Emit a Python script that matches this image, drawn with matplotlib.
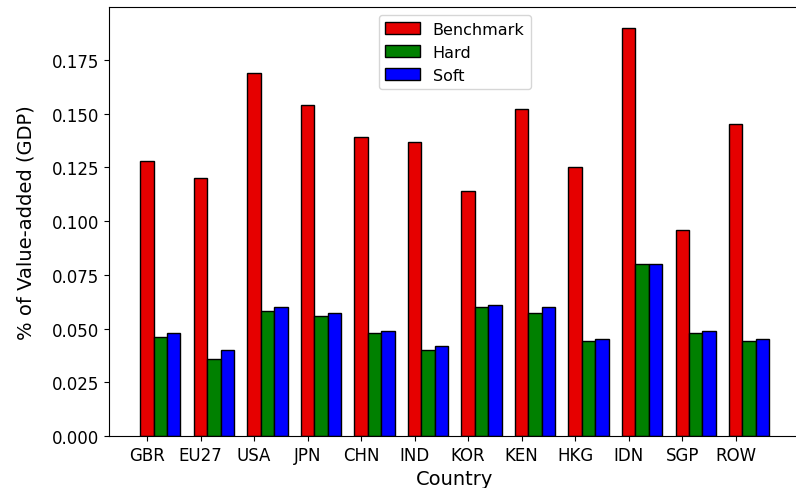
import numpy as np
import matplotlib.pyplot as plt

# Países / regiões
countries = ['GBR', 'EU27', 'USA', 'JPN', 'CHN', 'IND', 'KOR', 'KEN', 'HKG', 'IDN', 'SGP', 'ROW']

# Valores (% of value-added)
benchmark = [0.128, 0.120, 0.169, 0.154, 0.139, 0.137, 0.114, 0.152, 0.125, 0.190, 0.096, 0.145]
hard = [0.046, 0.036, 0.058, 0.056, 0.048, 0.040, 0.060, 0.057, 0.044, 0.080, 0.048, 0.044]
soft = [0.048, 0.040, 0.060, 0.057, 0.049, 0.042, 0.061, 0.060, 0.045, 0.080, 0.049, 0.045]

x = np.arange(len(countries))
w = 0.25

fig = plt.figure(figsize=(7.96, 4.89), dpi=100)
ax = fig.add_axes([0.1368, 0.1063, 0.869, 0.877])

ax.bar(x, benchmark, w, color='#e60000', edgecolor='black', label='Benchmark')
ax.bar(x + w, hard, w, color='green', edgecolor='black', label='Hard')
ax.bar(x + 2 * w, soft, w, color='blue', edgecolor='black', label='Soft')

ax.set_xticks(x)
ax.set_xticklabels(countries, fontsize=12)
ax.tick_params(axis='y', labelsize=12)
ax.set_xlabel('Country', fontsize=14)
ax.set_ylabel('% of Value-added (GDP)', fontsize=14, labelpad=12)
ax.legend(loc='upper center', fontsize=11.5, handlelength=2.2)
# a borda direita fica fora do recorte na figura original
ax.spines['right'].set_visible(False)

plt.savefig('out.png', dpi=100)
